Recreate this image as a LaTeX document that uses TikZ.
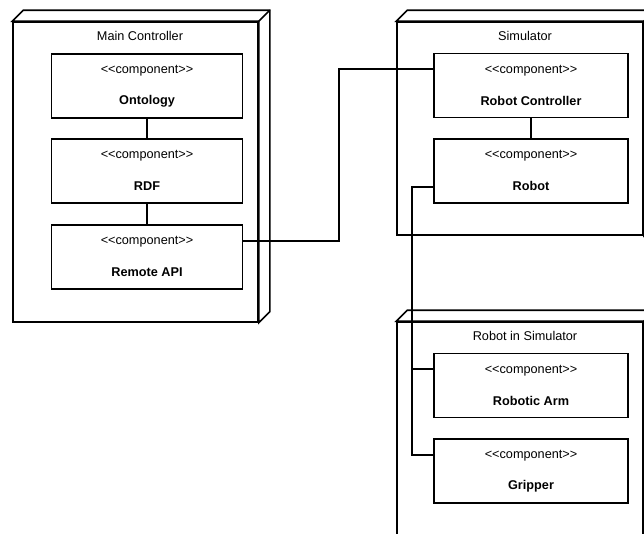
\documentclass[tikz,border=0pt]{standalone}
\usepackage{fontspec}
\setmainfont{Liberation Sans}
\usetikzlibrary{calc}
\tikzset{
  frame3d/.style={draw, fill=white, line width=1.6pt, inner sep=0pt},
  comp/.style={draw, fill=white, line width=1.6pt, minimum height=64pt, inner sep=0pt},
  wire/.style={line width=1.9pt},
  ttl/.style={font=\fontsize{12.7}{15}\selectfont, inner sep=0pt},
  stereo/.style={font=\fontsize{12.7}{15}\selectfont, inner sep=0pt},
  cname/.style={font=\fontsize{12.7}{15}\selectfont\bfseries, inner sep=0pt}
}
\newcommand{\stereotxt}{<\kern0pt<component>\kern0pt>}
\begin{document}
\begin{tikzpicture}[x=1pt,y=-1pt]
\useasboundingbox (0,0) rectangle (644,533);
\fill[white] (0,0) rectangle (644,533);
\begin{scope}
\clip (0,0) rectangle (644,533);
% Main Controller frame
\node[frame3d, minimum width=245pt, minimum height=300pt] (main) at (135.5,172) {};
\draw[line width=1.6pt, fill=white] (main.north west) -- ++(11,-11) -- ($(main.north east)+(11,-11)$) -- ($(main.south east)+(11,-11)$) -- (main.south east) -- (main.north east) -- cycle;
\draw[line width=1.6pt] (main.north east) -- ++(11,-11);
\node[ttl] (mainT) at (140,36) {Main Controller};
% Simulator frame
\node[frame3d, minimum width=246pt, minimum height=213pt] (sim) at (520,128.5) {};
\draw[line width=1.6pt, fill=white] (sim.north west) -- ++(11,-11) -- ($(sim.north east)+(11,-11)$) -- ($(sim.south east)+(11,-11)$) -- (sim.south east) -- (sim.north east) -- cycle;
\draw[line width=1.6pt] (sim.north east) -- ++(11,-11);
\node[ttl] (simT) at (525,36) {Simulator};
% Robot in Simulator frame
\node[frame3d, minimum width=246pt, minimum height=260pt] (ris) at (520,452) {};
\draw[line width=1.6pt, fill=white] (ris.north west) -- ++(11,-11) -- ($(ris.north east)+(11,-11)$) -- ($(ris.south east)+(11,-11)$) -- (ris.south east) -- (ris.north east) -- cycle;
\draw[line width=1.6pt] (ris.north east) -- ++(11,-11);
\node[ttl] (risT) at (525,336) {Robot in Simulator};
% components
\node[comp, minimum width=191pt] (onto) at (147,86) {};
\node[comp, minimum width=191pt] (rdf) at (147,171) {};
\node[comp, minimum width=191pt] (api) at (147,257) {};
\node[comp, minimum width=194pt] (rc) at (531,85.5) {};
\node[comp, minimum width=194pt] (rob) at (531,171) {};
\node[comp, minimum width=194pt] (arm) at (531,385.5) {};
\node[comp, minimum width=194pt] (grip) at (531,471) {};
\foreach \n/\t in {onto/Ontology, rdf/RDF, api/Remote API, rc/Robot Controller, rob/Robot, arm/Robotic Arm, grip/Gripper}{
  \node[stereo] at ($(\n.north)+(0,18)$) {\stereotxt};
  \node[cname] at ($(\n.north)+(0,48)$) {\t};
}
% connectors
\draw[wire] (onto) -- (rdf);
\draw[wire] (rdf) -- (api);
\draw[wire] (rc) -- (rob);
\coordinate (a1) at ($(api.north east)!.25!(api.south east)$);
\coordinate (b1) at ($(rc.north west)!.25!(rc.south west)$);
\draw[wire] (a1) -- ++(95.5,0) |- (b1);
\coordinate (r1) at ($(rob.north west)!.75!(rob.south west)$);
\coordinate (arm1) at ($(arm.north west)!.25!(arm.south west)$);
\coordinate (grip1) at ($(grip.north west)!.25!(grip.south west)$);
\draw[wire] (r1) -- ++(-21,0) |- (grip1);
\draw[wire] (arm1) -- ++(-21,0);
\end{scope}
\end{tikzpicture}
\end{document}
